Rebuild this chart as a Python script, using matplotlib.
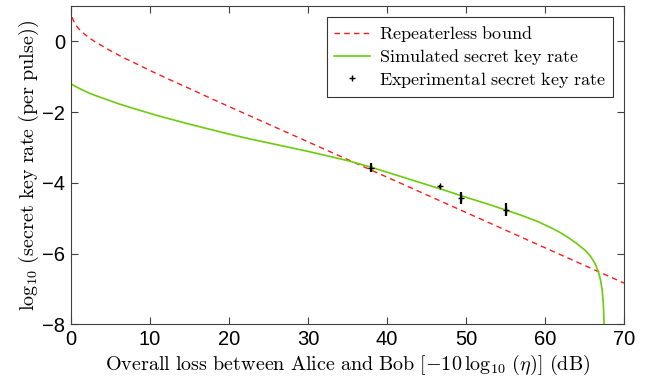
import matplotlib
matplotlib.use('Agg')
import matplotlib.pyplot as plt

plt.rcParams['mathtext.fontset'] = 'cm'
plt.rcParams['font.family'] = ['Liberation Sans', 'DejaVu Sans']

# repeaterless bound
bound_x = [0.15, 0.5, 1, 1.5, 2, 3, 4, 5, 6.5, 8, 10, 12.5, 15, 18, 20, 25, 30, 40, 50, 60, 70]
bound_y = [0.69, 0.50, 0.36, 0.25, 0.16, 0.00, -0.13, -0.26, -0.44, -0.60, -0.82, -1.08,
           -1.33, -1.64, -1.84, -2.34, -2.84, -3.84, -4.84, -5.84, -6.84]

# simulated secret key rate
sim_x = [0, 0.5, 1, 2, 3, 4, 5, 6, 7, 8, 9.5, 11, 13, 15, 17.5, 20, 22.5, 25, 27.5, 30,
         32.5, 35, 38, 41, 44, 47, 50, 53, 55, 57, 59, 61, 62, 63, 64, 65, 65.7, 66.3,
         66.7, 67.0, 67.2, 67.35, 67.45]
sim_y = [-1.20, -1.26, -1.32, -1.43, -1.52, -1.60, -1.68, -1.76, -1.83, -1.90, -2.00, -2.10,
         -2.22, -2.34, -2.48, -2.62, -2.75, -2.87, -2.99, -3.11, -3.24, -3.37, -3.56, -3.77,
         -3.98, -4.19, -4.41, -4.62, -4.77, -4.92, -5.09, -5.30, -5.42, -5.56, -5.72, -5.90,
         -6.07, -6.28, -6.50, -6.75, -7.03, -7.40, -8.0]

# experimental points
exp_x = [38.0, 46.7, 49.4, 55.1]
exp_y = [-3.57, -4.10, -4.43, -4.76]
exp_err = [0.12, 0.05, 0.17, 0.19]

fig = plt.figure(figsize=(6.62, 3.85), dpi=100)
ax = fig.add_axes([0.107, 0.158, 0.836, 0.826])

ax.plot(bound_x, bound_y, color='#ff1a1a', lw=1.0, dashes=(4, 3),
        label=r'$\mathrm{Repeaterless\ bound}$')
ax.plot(sim_x, sim_y, '-', color='#6ccc0a', lw=1.2, label=r'$\mathrm{Simulated\ secret\ key\ rate}$')
ax.errorbar(exp_x, exp_y, yerr=exp_err, fmt='none', ecolor='k', elinewidth=1.6, capsize=0)
ax.plot(exp_x, exp_y, 'k+', ms=5, mew=1.0, linestyle='none',
        label=r'$\mathrm{Experimental\ secret\ key\ rate}$')

ax.set_xlim(0, 70)
ax.set_ylim(-8, 1)
ax.set_xticks(range(0, 71, 10))
ax.set_yticks([-8, -6, -4, -2, 0])
ax.tick_params(direction='in', top=True, right=True, labelsize=14.5, length=5, color='#404040',
               pad=4)
for s in ax.spines.values():
    s.set_color('#404040')

ax.set_xlabel(r'$\mathrm{Overall\ loss\ between\ Alice\ and\ Bob}\ [-10\,\log_{10}\,(\eta)]\ \mathrm{(dB)}$',
              fontsize=14.5, labelpad=3)
ax.set_ylabel(r'$\log_{10}\,(\mathrm{secret\ key\ rate\ (per\ pulse)})$', fontsize=14.5, labelpad=1)

leg = ax.legend(loc='upper right', fontsize=13, frameon=True, fancybox=False, edgecolor='black',
                handlelength=2.0, borderaxespad=0.6, labelspacing=0.15, handletextpad=0.5)
leg.get_frame().set_linewidth(0.8)

fig.savefig('out.png', dpi=100)
